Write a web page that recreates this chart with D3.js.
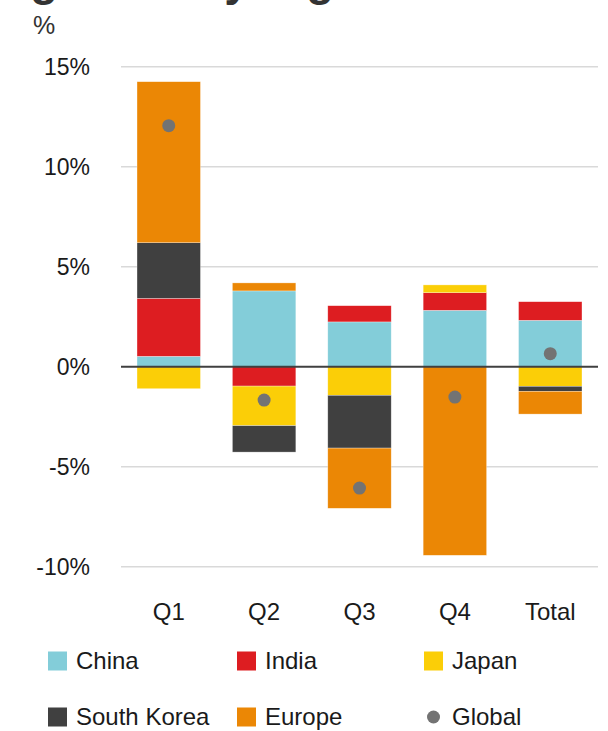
<!DOCTYPE html>
<html><head><meta charset="utf-8">
<script src="https://cdn.jsdelivr.net/npm/d3@7"></script>
<style>body{margin:0;background:#fff}svg{display:block}</style>
</head><body>
<script>
const categories = ["Q1", "Q2", "Q3", "Q4", "Total"];
const seriesNames = ["China", "India", "Japan", "South Korea", "Europe"];
const china = [0.52, 3.79, 2.24, 2.82, 2.32];
const india = [2.9, -0.97, 0.81, 0.88, 0.93];
const japan = [-1.1, -1.98, -1.43, 0.39, -0.98];
const southKorea = [2.78, -1.32, -2.64, 0, -0.25];
const europe = [8.05, 0.4, -3.01, -9.43, -1.14];
const global = [12.05, -1.67, -6.07, -1.52, 0.65];
const yTicks = [-10, -5, 0, 5, 10, 15];
const colors = {"China": "#83CDD9", "India": "#DD1D21", "Japan": "#FBCE07", "South Korea": "#404040", "Europe": "#EB8705", "Global": "#737373"};

const W = 608, H = 731;
const font = "'Liberation Sans', Arial, sans-serif";
const svg = d3.select("body").append("svg").attr("width", W).attr("height", H);

// cropped title (only descenders visible, as in the reference)
svg.append("text").attr("x", 30).attr("y", -5)
  .attr("font-family", font).attr("font-weight", "bold").attr("font-size", 46)
  .attr("fill", "#333").text("growth by region");

svg.append("text").attr("x", 33).attr("y", 34)
  .attr("font-family", font).attr("font-size", 25).attr("fill", "#333").text("%");

const x = d3.scaleBand().domain(categories).range([121, 598]).paddingInner(0.335).paddingOuter(0.168);
const y = d3.scaleLinear().domain([-10, 15]).range([566.7, 66.7]);

// gridlines
svg.append("g").selectAll("line").data(yTicks.filter(d => d !== 0)).join("line")
  .attr("x1", 121).attr("x2", 598).attr("y1", d => y(d)).attr("y2", d => y(d))
  .attr("stroke", "#d9d9d9").attr("stroke-width", 1.5);

// y axis labels
const yAxis = d3.axisLeft(y).tickValues(yTicks).tickSize(0).tickPadding(0).tickFormat(d => d + "%");
const ga = svg.append("g").attr("transform", "translate(90,0)").call(yAxis);
ga.select(".domain").remove();
ga.selectAll("text").attr("font-family", font).attr("font-size", 23).attr("fill", "#1a1a1a").attr("dy", "0.35em");

// stacked bars
const rows = categories.map((c, i) => ({cat: c, "China": china[i], "India": india[i], "Japan": japan[i], "South Korea": southKorea[i], "Europe": europe[i]}));
const stack = d3.stack().keys(seriesNames).offset(d3.stackOffsetDiverging)(rows);
svg.append("g").selectAll("g").data(stack).join("g").attr("fill", d => colors[d.key])
  .selectAll("rect").data(d => d).join("rect")
  .attr("x", d => x(d.data.cat)).attr("width", x.bandwidth())
  .attr("y", d => y(Math.max(d[0], d[1])))
  .attr("height", d => Math.abs(y(d[0]) - y(d[1])))
  .attr("stroke", "#fff").attr("stroke-opacity", 0.5).attr("stroke-width", 0.6);

// zero line
svg.append("line").attr("x1", 121).attr("x2", 598).attr("y1", y(0)).attr("y2", y(0))
  .attr("stroke", "#404040").attr("stroke-width", 2);

// global dots
svg.append("g").selectAll("circle").data(global).join("circle")
  .attr("cx", (d, i) => x(categories[i]) + x.bandwidth() / 2).attr("cy", d => y(d))
  .attr("r", 6.5).attr("fill", colors.Global);

// x axis labels
const xAxis = d3.axisBottom(x).tickSize(0).tickPadding(0);
const gx = svg.append("g").attr("transform", "translate(0,603)").call(xAxis);
gx.select(".domain").remove();
gx.selectAll("text").attr("font-family", font).attr("font-size", 24).attr("fill", "#1a1a1a").attr("dy", "0.71em");

// legend
const legend = [
  {name: "China", x: 48, y: 661, type: "rect"},
  {name: "India", x: 237, y: 661, type: "rect"},
  {name: "Japan", x: 424, y: 661, type: "rect"},
  {name: "South Korea", x: 48, y: 717, type: "rect"},
  {name: "Europe", x: 237, y: 717, type: "rect"},
  {name: "Global", x: 424, y: 717, type: "dot"}
];
const lg = svg.append("g").selectAll("g").data(legend).join("g");
lg.filter(d => d.type === "rect").append("rect")
  .attr("x", d => d.x).attr("y", d => d.y - 9.5).attr("width", 19).attr("height", 19)
  .attr("fill", d => colors[d.name]);
lg.filter(d => d.type === "dot").append("circle")
  .attr("cx", d => d.x + 9.5).attr("cy", d => d.y).attr("r", 6.5).attr("fill", d => colors[d.name]);
lg.append("text").attr("x", d => d.x + 28).attr("y", d => d.y).attr("dy", "0.35em")
  .attr("font-family", font).attr("font-size", 24).attr("fill", "#1a1a1a").text(d => d.name);
</script>
</body></html>
